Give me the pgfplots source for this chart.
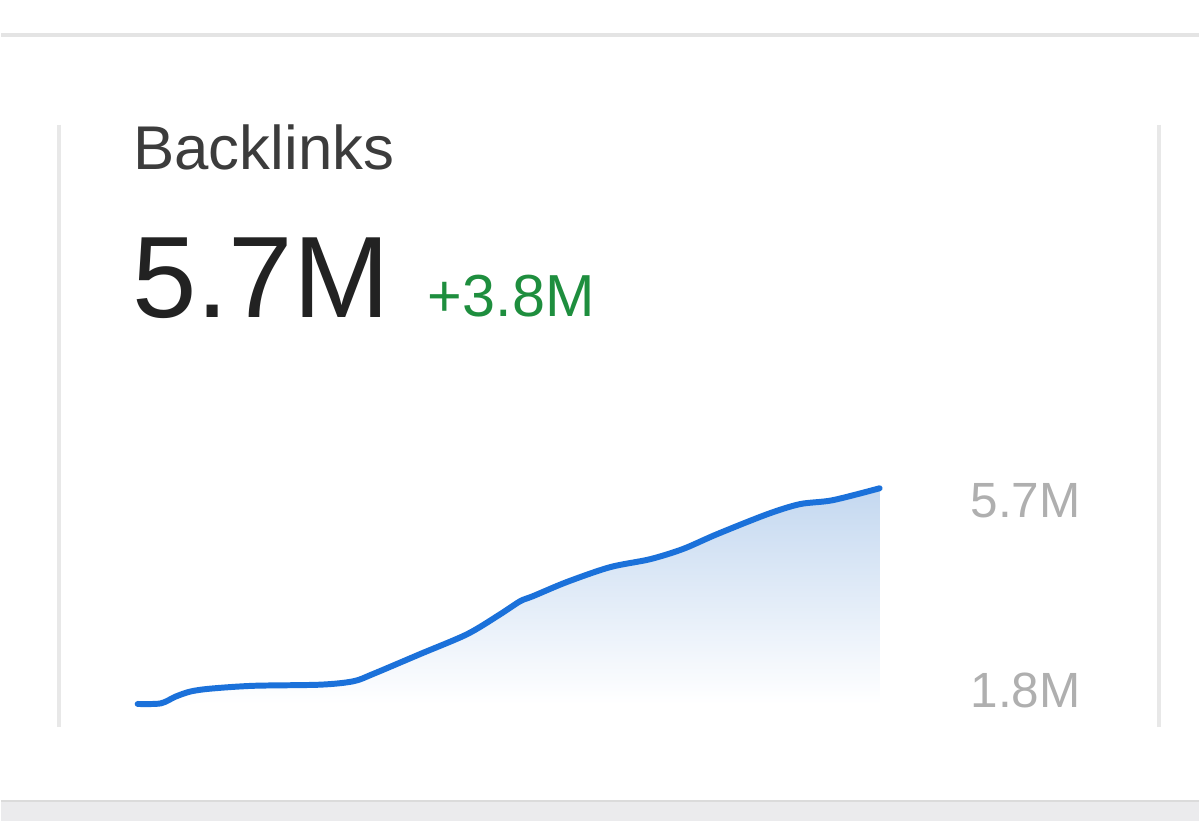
\documentclass[border=0pt]{standalone}
\usepackage{fontspec}
\setmainfont{Liberation Sans}
\usepackage{pgfplots}
\pgfplotsset{compat=1.18}
\definecolor{lineblue}{RGB}{27,113,218}
\definecolor{fillblue}{RGB}{196,216,240}
\definecolor{gtxt}{RGB}{60,60,60}
\definecolor{bigtxt}{RGB}{34,34,34}
\definecolor{gain}{RGB}{30,142,62}
\definecolor{lbl}{RGB}{175,175,175}
\definecolor{sep}{RGB}{228,228,228}
\definecolor{vsep}{RGB}{232,232,232}
\definecolor{band}{RGB}{235,235,237}
\begin{document}
\begin{tikzpicture}
\fill[white] (0,0) rectangle (12,8.22);
% top separator
\fill[sep] (0,8.22-0.37) rectangle (12,8.22-0.33);
% bottom band
\fill[band] (0,0) rectangle (12,8.22-8.02);
\draw[sep!80!black!20!sep, line width=0.5pt] (0,8.22-8.025) -- (12,8.22-8.025);
% vertical separators
\draw[vsep, line width=1pt] (0.58,8.22-1.25) -- (0.58,8.22-7.28);
\draw[vsep, line width=1pt] (11.60,8.22-1.25) -- (11.60,8.22-7.28);
% texts
\node[anchor=base west, inner sep=0, text=gtxt] at (1.32,8.22-1.70) {\fontsize{17.6pt}{20pt}\selectfont Backlinks};
\node[anchor=base west, inner sep=0, text=bigtxt] at (1.31,8.22-3.18) {\fontsize{33pt}{36pt}\selectfont 5.7M};
\node[anchor=base west, inner sep=0, text=gain] at (4.27,8.22-3.17) {\fontsize{16.9pt}{19pt}\selectfont +3.8M};
\node[anchor=base east, inner sep=0, text=lbl] at (10.82,8.22-5.18) {\fontsize{14.1pt}{16pt}\selectfont 5.7M};
\node[anchor=base east, inner sep=0, text=lbl] at (10.82,8.22-7.09) {\fontsize{14.1pt}{16pt}\selectfont 1.8M};
\begin{axis}[
  at={(1.37cm,1.17cm)}, anchor=south west,
  scale only axis, width=7.43cm, height=2.16cm,
  xmin=137, xmax=880, ymin=1.9, ymax=5.7,
  hide axis, clip=false,
]
\addplot[draw=none, top color=fillblue, bottom color=white, shading angle=0] coordinates {
(137,1.90) (160,1.91) (175,2.03) (190,2.12) (210,2.17) (253,2.22) (320,2.24) (353,2.30) (373,2.43) (420,2.78) (467,3.13) (500,3.48) (520,3.71) (533,3.80) (567,4.05) (610,4.31) (650,4.45) (683,4.63) (717,4.89) (767,5.24) (800,5.42) (833,5.49) (880,5.70)
} \closedcycle;
\addplot[lineblue, line width=1.7pt, smooth, tension=0.5, line cap=round] coordinates {
(137,1.90) (160,1.91) (175,2.03) (190,2.12) (210,2.17) (253,2.22) (320,2.24) (353,2.30) (373,2.43) (420,2.78) (467,3.13) (500,3.48) (520,3.71) (533,3.80) (567,4.05) (610,4.31) (650,4.45) (683,4.63) (717,4.89) (767,5.24) (800,5.42) (833,5.49) (880,5.70)
};
\end{axis}
\end{tikzpicture}
\end{document}
